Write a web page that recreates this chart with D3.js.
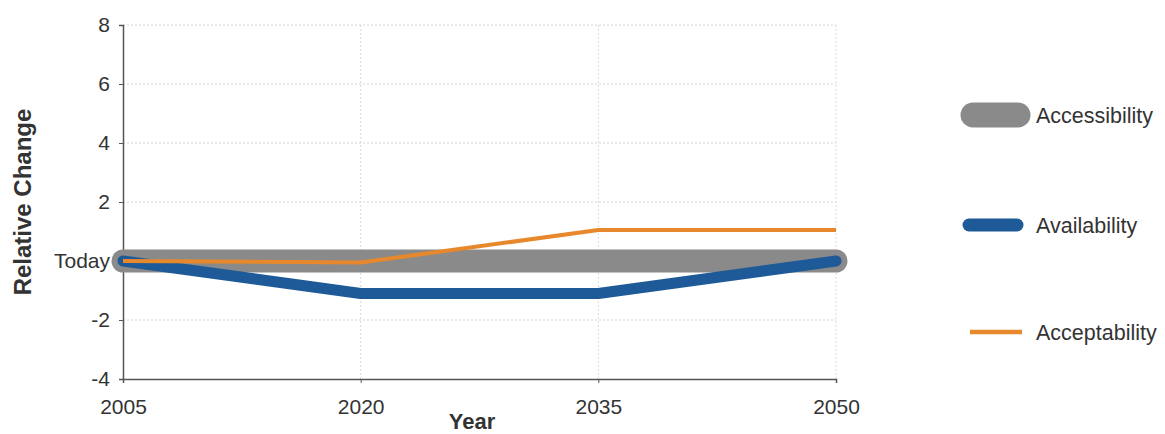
<!DOCTYPE html>
<html><head><meta charset="utf-8">
<script src="https://cdnjs.cloudflare.com/ajax/libs/d3/7.8.5/d3.min.js"></script>
<style>body{margin:0;background:#fff;}svg{display:block;font-family:"Liberation Sans",Arial,sans-serif;}</style>
</head><body><svg id="c" width="1165" height="434"></svg>
<script>
const years = [2005, 2020, 2035, 2050];
const yTicks = [-4, -2, 0, 2, 4, 6, 8];
const seriesNames = ["Accessibility", "Availability", "Acceptability"];
const accessibility = [0, 0, 0, 0];
const availability = [0, -1.1, -1.1, 0];
const acceptability = [0, -0.05, 1.05, 1.05];
const colors = ["#8a8a8a", "#1d5a97", "#e8882c"];
const widths = [23, 11, 4];

const svg = d3.select("#c");
const m = {l:123, r:836, t:25, b:379};
const x = d3.scaleLinear().domain([2005, 2050]).range([m.l, m.r]);
const y = d3.scaleLinear().domain([-4, 8]).range([m.b, m.t]);
const FF = "Liberation Sans, Arial, sans-serif";

// grid
svg.append("g").selectAll("line").data(yTicks.filter(d=>d>-4)).join("line")
  .attr("x1", m.l).attr("x2", m.r).attr("y1", d=>y(d)).attr("y2", d=>y(d))
  .attr("stroke", "#d4d4d4").attr("stroke-dasharray", "2,2").attr("stroke-width", 1);
svg.append("g").selectAll("line").data(years.slice(1)).join("line")
  .attr("x1", d=>x(d)).attr("x2", d=>x(d)).attr("y1", m.t).attr("y2", m.b)
  .attr("stroke", "#dadada").attr("stroke-dasharray", "2,2").attr("stroke-width", 1);

// axes
const yAxis = d3.axisLeft(y).tickValues(yTicks).tickSize(4).tickPadding(9)
  .tickFormat(d => d === 0 ? "Today" : String(d));
const gy = svg.append("g").attr("transform", `translate(${m.l},0)`).call(yAxis);
gy.select(".domain").attr("stroke", "#555").attr("stroke-width", 1.5);
gy.selectAll(".tick line").attr("stroke", "#555");
gy.selectAll(".tick text").attr("font-size", 21).attr("fill", "#333").attr("font-family", FF);

const xAxis = d3.axisBottom(x).tickValues(years).tickSize(4).tickPadding(16).tickFormat(d3.format("d"));
const gx = svg.append("g").attr("transform", `translate(0,${m.b})`).call(xAxis);
gx.select(".domain").attr("stroke", "#555").attr("stroke-width", 1.5);
gx.selectAll(".tick line").attr("stroke", "#555");
gx.selectAll(".tick text").attr("font-size", 21).attr("fill", "#333").attr("font-family", FF);

// axis titles
svg.append("text").attr("transform", `translate(31,${202}) rotate(-90)`)
  .attr("text-anchor", "middle").attr("font-size", 24).attr("font-weight", "bold").attr("fill", "#333")
  .attr("font-family", FF).text("Relative Change");
svg.append("text").attr("x", 472).attr("y", 429).attr("text-anchor", "middle")
  .attr("font-size", 22).attr("font-weight", "bold").attr("fill", "#333").attr("font-family", FF).text("Year");

// lines
const data = [accessibility, availability, acceptability];
const line = d3.line().x((d,i)=>x(years[i])).y(d=>y(d));
svg.append("g").selectAll("path").data(data).join("path")
  .attr("d", d=>line(d)).attr("fill", "none")
  .attr("stroke", (d,i)=>colors[i]).attr("stroke-width", (d,i)=>widths[i])
  .attr("stroke-linecap", (d,i)=> i<2 ? "round" : "butt").attr("stroke-linejoin", "round");

// legend
const legY = [115, 225, 332];
const legX = [[973, 1018], [969, 1017], [970, 1022]];
const legW = [25, 13, 4.5];
const lg = svg.append("g");
seriesNames.forEach((n,i)=>{
  lg.append("line").attr("x1", legX[i][0]).attr("x2", legX[i][1]).attr("y1", legY[i]).attr("y2", legY[i])
    .attr("stroke", colors[i]).attr("stroke-width", legW[i]).attr("stroke-linecap", i<2?"round":"butt");
  lg.append("text").attr("x", 1036).attr("y", legY[i]+8).attr("font-size", 21.5).attr("fill", "#333")
    .attr("font-family", FF).text(n);
});
</script></body></html>
